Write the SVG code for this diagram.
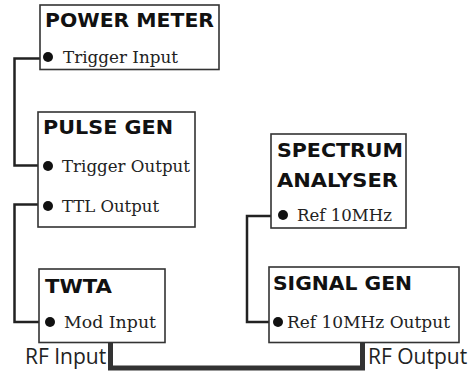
<svg xmlns="http://www.w3.org/2000/svg" width="469" height="371" viewBox="0 0 469 371">
<style>
.box{fill:#fff;stroke:#333;stroke-width:1.6}
.title{font-family:"DejaVu Sans","Liberation Sans",sans-serif;font-weight:bold;font-size:19px;fill:#111}
.port{font-family:"DejaVu Serif","Liberation Serif",serif;font-size:16.8px;fill:#222}
.rf{font-family:"Open Sans","Liberation Sans",sans-serif;font-size:21px;fill:#222}
.dot{fill:#111}
.wire{fill:none;stroke:#222;stroke-width:2.5}
.rfwire{fill:none;stroke:#333;stroke-width:5}
</style>
<rect width="469" height="371" fill="#fff"/>
<g id="connectors">
<polyline class="wire" points="40,58.5 14.5,58.5 14.5,165.5 38,165.5"/>
<polyline class="wire" points="38,204.5 14.5,204.5 14.5,322 39,322"/>
<polyline class="wire" points="271,216 247,216 247,322 269,322"/>
<polyline class="rfwire" points="110.5,342 110.5,368 362.5,368 362.5,342"/>
</g>
<g id="power-meter">
<rect class="box" x="40" y="5" width="179" height="64.5"/>
<text class="title" x="45" y="27" textLength="169" lengthAdjust="spacingAndGlyphs">POWER METER</text>
<circle class="dot" cx="48" cy="57" r="5"/>
<text class="port" x="63" y="63" textLength="115" lengthAdjust="spacingAndGlyphs">Trigger Input</text>
</g>
<g id="pulse-gen">
<rect class="box" x="38" y="112" width="157" height="115"/>
<text class="title" x="43" y="134" textLength="130" lengthAdjust="spacingAndGlyphs">PULSE GEN</text>
<circle class="dot" cx="48" cy="166" r="5"/>
<text class="port" x="62" y="172" textLength="128" lengthAdjust="spacingAndGlyphs">Trigger Output</text>
<circle class="dot" cx="48" cy="206" r="5"/>
<text class="port" x="62" y="212" textLength="97" lengthAdjust="spacingAndGlyphs">TTL Output</text>
</g>
<g id="twta">
<rect class="box" x="39" y="269" width="126" height="73.5"/>
<text class="title" x="45" y="293" textLength="67" lengthAdjust="spacingAndGlyphs">TWTA</text>
<circle class="dot" cx="50" cy="322" r="5"/>
<text class="port" x="64" y="328" textLength="92" lengthAdjust="spacingAndGlyphs">Mod Input</text>
</g>
<g id="spectrum-analyser">
<rect class="box" x="271" y="134" width="135" height="94"/>
<text class="title" x="277" y="157" textLength="126" lengthAdjust="spacingAndGlyphs">SPECTRUM</text>
<text class="title" x="277" y="187" textLength="121" lengthAdjust="spacingAndGlyphs">ANALYSER</text>
<circle class="dot" cx="283" cy="215" r="5"/>
<text class="port" x="297" y="221" textLength="95" lengthAdjust="spacingAndGlyphs">Ref 10MHz</text>
</g>
<g id="signal-gen">
<rect class="box" x="269" y="267" width="190" height="75.5"/>
<text class="title" x="273" y="290" textLength="139" lengthAdjust="spacingAndGlyphs">SIGNAL GEN</text>
<circle class="dot" cx="278" cy="322" r="5"/>
<text class="port" x="287" y="328" textLength="163" lengthAdjust="spacingAndGlyphs">Ref 10MHz Output</text>
</g>
<g id="rf-labels">
<text class="rf" x="25" y="364">RF Input</text>
<text class="rf" x="368" y="364">RF Output</text>
</g>
</svg>
